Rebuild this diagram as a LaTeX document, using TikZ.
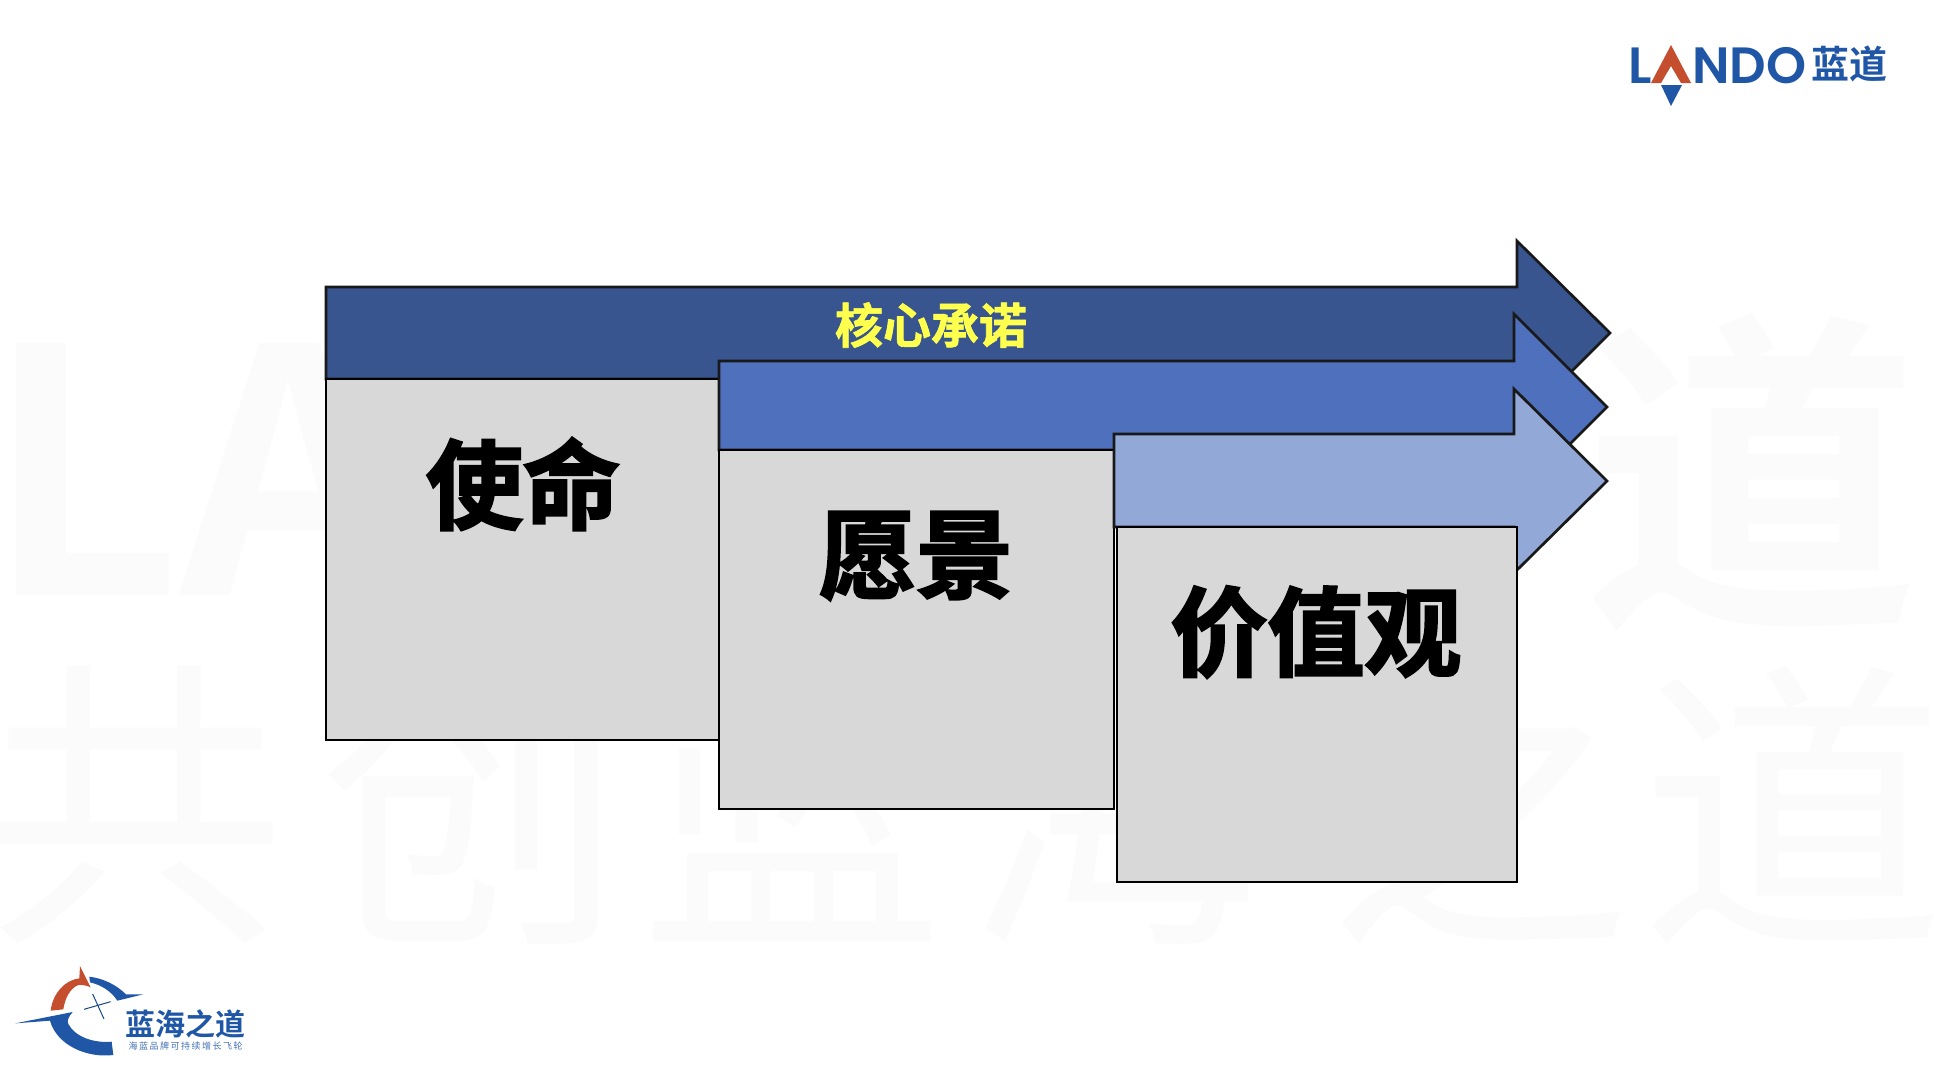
\documentclass[tikz,border=0pt]{standalone}
\usepackage{fontspec}
\setmainfont{Noto Sans CJK SC}
\newfontfamily\cjk{Noto Sans CJK SC}
\newfontfamily\cjkbold{Noto Sans CJK SC Bold}
\newfontfamily\cjkfat[FakeBold=1.4]{Noto Sans CJK SC Bold}
\newfontfamily\cjkheavy[FakeBold=2.5]{Noto Sans CJK SC Bold}
\newfontfamily\latinlogo{Poppins SemiBold}
\definecolor{arrowdark}{RGB}{56,85,144}
\definecolor{arrowmid}{RGB}{79,112,188}
\definecolor{arrowlight}{RGB}{146,169,215}
\definecolor{boxgray}{RGB}{216,216,216}
\definecolor{promiseyellow}{RGB}{255,255,77}
\definecolor{logoblue}{RGB}{31,87,166}
\definecolor{logored}{RGB}{196,78,45}
\definecolor{watermark}{RGB}{252,251,252}
\tikzset{blockarrow/.style={draw=black!90,line width=2.7pt,line join=miter}}
\tikzset{graybox/.style={draw=black,line width=1.6pt,fill=boxgray}}
\tikzset{bigword/.style={inner sep=0pt,font=\fontsize{97}{97}\cjkheavy}}
\tikzset{bgword/.style={inner sep=0pt,text=watermark}}
\begin{document}
\begin{tikzpicture}[x=1pt,y=-1pt]
  \useasboundingbox (0,0) rectangle (1934,1080);
  % faint words behind
  \node[bgword,font=\fontsize{340}{340}\cjkbold,anchor=base west] (bgtop) at (-15,595) {LANDO};
  \node[bgword,font=\fontsize{335}{335}\cjkbold] (bgdao) at (1752,472) {道};
  \foreach \c/\px in {共/134,创/472,蓝/792,海/1116,之/1480,道/1793}
    \node[bgword,font=\fontsize{305}{305}\cjk] (bg\px) at (\px,805) {\c};

  % arrow one with its box
  \draw[blockarrow,fill=arrowdark] (326,287) -- (1517,287) -- (1517,241) -- (1610,333)
    -- (1517,426) -- (1517,379) -- (326,379) -- cycle;
  \node[inner sep=0pt,text=promiseyellow,font=\fontsize{48}{48}\cjkfat] (promise) at (931,325) {核心承诺};
  \draw[graybox] (326,379) rectangle (719,740);
  \node[bigword] (mission) at (523,484) {使命};

  % arrow two with its box
  \draw[blockarrow,fill=arrowmid] (719,361) -- (1514,361) -- (1514,314) -- (1607,407)
    -- (1514,500) -- (1514,450) -- (719,450) -- cycle;
  \draw[graybox] (719,450) rectangle (1114,809);
  \node[bigword] (vision) at (916,556) {愿景};

  % arrow three with its box
  \draw[blockarrow,fill=arrowlight] (1114,434) -- (1514,434) -- (1514,389) -- (1607,481)
    -- (1514,573) -- (1514,527) -- (1114,527) -- cycle;
  \draw[graybox] (1117,527) rectangle (1517,882);
  \node[bigword] (values) at (1316,632) {价值观};

  % logo top right
  \node[inner sep=0pt,anchor=base west,text=logoblue,font=\fontsize{51}{51}\latinlogo] (logol) at (1628,83) {L};
  \node[inner sep=0pt,anchor=base west,text=logoblue,font=\fontsize{51}{51}\latinlogo] (logondo) at (1692,83) {NDO};
  \fill[logored] (1671,45) -- (1691,83) -- (1681,83) -- (1671,66) -- (1661,83) -- (1651,83) -- cycle;
  \fill[logoblue] (1661,85) -- (1682,85) -- (1671,106) -- cycle;
  \node[inner sep=0pt,text=logoblue,font=\fontsize{38}{38}\cjkbold] (logocn) at (1849,64) {蓝道};

  % logo bottom left
  \begin{scope}[shift={(0,950)},x=0.3333pt,y=-0.3333pt]
    \fill[logored] (152,182) .. controls (158,130) and (195,90) .. (238,85) -- (240,48) -- (272,112)
      .. controls (260,106) and (245,104) .. (235,105) .. controls (210,115) and (195,145) .. (190,178) -- cycle;
    \fill[logoblue] (268,80) .. controls (310,85) and (350,105) .. (378,133) -- (430,133) -- (352,152)
      .. controls (335,125) and (305,105) .. (270,97) -- cycle;
    \fill[logoblue] (46,220) -- (218,186) .. controls (205,200) and (200,215) .. (205,222)
      .. controls (225,260) and (280,280) .. (335,275) -- (340,315)
      .. controls (260,325) and (170,285) .. (150,212) -- cycle;
    \draw[logoblue!80!black,line width=1pt] (252,178) -- (332,155);
    \draw[logoblue!80!black,line width=1pt] (278,132) -- (312,207);
    \node[inner sep=0pt,text=logoblue,font=\fontsize{30}{30}\cjkbold] (seaname) at (557,221) {蓝海之道};
    \node[inner sep=0pt,text=logoblue!85,font=\fontsize{9}{9}\cjk] (seatag) at (557,289) {海\,蓝\,品\,牌\,可\,持\,续\,增\,长\,飞\,轮};
  \end{scope}
\end{tikzpicture}
\end{document}
